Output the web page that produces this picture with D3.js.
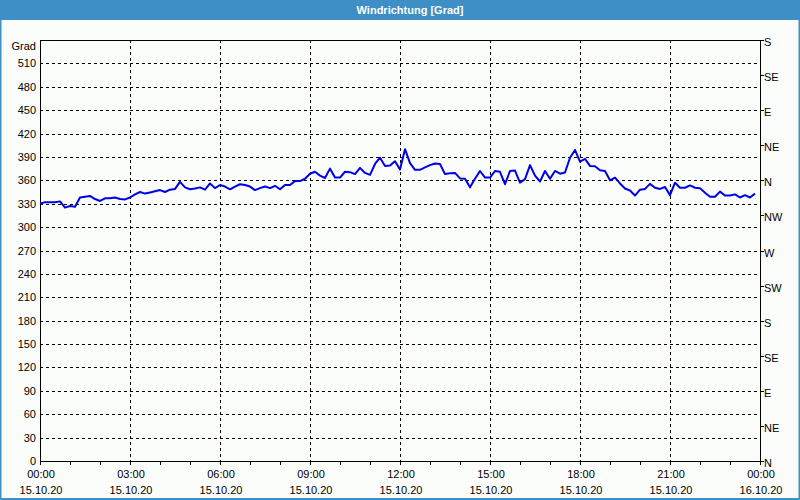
<!DOCTYPE html>
<html>
<head>
<meta charset="utf-8">
<script src="https://cdn.jsdelivr.net/npm/d3@7"></script>
<style>
  body { margin: 0; background: #fff; }
  svg { display: block; }
</style>
</head>
<body>
<div id="chart"></div>
<script>
// wind direction, one value every 10 minutes starting 15.10.20 00:00
const windDir = [
  330, 332, 332, 332, 333, 325, 327, 326, 338, 339, 340, 336,
  333.5, 337, 337, 338, 336, 335.5, 338, 342, 345, 343, 344.5, 346,
  347.5, 345, 348, 349, 358, 351, 348.5, 349.5, 351, 348, 356, 350,
  354, 352, 348.5, 352, 355, 354, 352, 347.5, 350, 352, 350, 353,
  348.5, 354, 354, 359, 359, 362, 368.5, 371, 366, 363, 375, 363.5,
  363.5, 371, 370.5, 368, 376, 369.5, 367, 381, 389, 378.5, 379, 384.5,
  374, 400, 382, 373.5, 373.5, 376.5, 379.5, 381.5, 381, 368, 369, 369.5,
  362.5, 362, 351, 362, 372, 363.5, 363.5, 372, 371, 355, 372, 372.5,
  357, 361.5, 379.5, 366, 358.5, 372, 362, 372, 368.5, 370, 389, 399,
  384, 387.5, 378.5, 378, 373, 372, 360, 363.5, 356, 349.5, 347, 340.5,
  348, 349, 355.5, 350.5, 349, 351.5, 341, 357, 350.5, 350.5, 353.5, 350.5,
  350, 344, 339, 339, 345.5, 340.5, 340.5, 342, 338, 341, 338, 343
];
const stepMinutes = 10;
const startTime = new Date(2020, 9, 15, 0, 0);
const endTime = new Date(2020, 9, 16, 0, 0);

const yTicks = [0, 30, 60, 90, 120, 150, 180, 210, 240, 270, 300, 330, 360, 390, 420, 450, 480, 510];
const dirTicks = [0, 45, 90, 135, 180, 225, 270, 315, 360, 405, 450, 495, 540];
const dirLabels = ['N', 'NE', 'E', 'SE', 'S', 'SW', 'W', 'NW', 'N', 'NE', 'E', 'SE', 'S'];

const width = 800, height = 500;
const margin = { top: 40, right: 40, bottom: 39, left: 40 };
const font = 'Liberation Sans, Arial, sans-serif';

const svg = d3.select('#chart').append('svg')
    .attr('width', width)
    .attr('height', height);

svg.append('rect')
    .attr('width', width).attr('height', height)
    .attr('fill', '#fbfdfb');

// title bar
svg.append('rect')
    .attr('width', width).attr('height', 20)
    .attr('fill', '#3d8fc6');
svg.append('text')
    .attr('x', 410).attr('y', 14)
    .attr('text-anchor', 'middle')
    .style('font-family', font)
    .style('font-size', '11px')
    .style('font-weight', 'bold')
    .style('fill', '#fff')
    .text('Windrichtung [Grad]');

// window border
svg.append('path')
    .attr('d', `M0.5,20 V${height - 1} H${width - 0.5} V20`)
    .attr('fill', 'none')
    .attr('stroke', '#3d8fc6')
    .attr('stroke-width', 2);

const x = d3.scaleTime()
    .domain([startTime, endTime])
    .range([margin.left, width - margin.right]);

const y = d3.scaleLinear()
    .domain([0, 540])
    .range([height - margin.bottom, margin.top]);

const x0 = x.range()[0], x1 = x.range()[1];
const y0 = y.range()[0], y1 = y.range()[1];

// grid
const grid = svg.append('g')
    .attr('stroke', '#000')
    .attr('stroke-width', 1)
    .attr('stroke-dasharray', '3,3')
    .attr('shape-rendering', 'crispEdges');

grid.selectAll('line.h')
    .data(yTicks.filter(d => d > 0))
    .join('line')
    .attr('class', 'h')
    .attr('x1', x0).attr('x2', x1)
    .attr('y1', d => Math.round(y(d)) + 0.5)
    .attr('y2', d => Math.round(y(d)) + 0.5);

const gridHours = d3.timeHour.every(3).range(startTime, endTime).filter(d => d > startTime);
grid.selectAll('line.v')
    .data(gridHours)
    .join('line')
    .attr('class', 'v')
    .attr('y1', y1).attr('y2', y0)
    .attr('x1', d => Math.round(x(d)) + 0.5)
    .attr('x2', d => Math.round(x(d)) + 0.5);

// frame
svg.append('rect')
    .attr('x', x0 + 0.5).attr('y', y1 + 0.5)
    .attr('width', x1 - x0).attr('height', y0 - y1)
    .attr('fill', 'none')
    .attr('stroke', '#000')
    .attr('shape-rendering', 'crispEdges');

// left axis labels
svg.append('g')
    .selectAll('text')
    .data(yTicks)
    .join('text')
    .attr('x', x0 - 4)
    .attr('y', d => y(d) + 4)
    .attr('text-anchor', 'end')
    .style('font-family', font)
    .style('font-size', '11px')
    .style('fill', '#000')
    .text(d => d);

svg.append('text')
    .attr('x', x0 - 4).attr('y', 50)
    .attr('text-anchor', 'end')
    .style('font-family', font)
    .style('font-size', '11px')
    .text('Grad');

// right axis: compass directions
const right = svg.append('g');
right.selectAll('line')
    .data(dirTicks)
    .join('line')
    .attr('x1', x1).attr('x2', x1 + 4)
    .attr('y1', d => Math.round(y(d)) + 0.5)
    .attr('y2', d => Math.round(y(d)) + 0.5)
    .attr('stroke', '#000')
    .attr('shape-rendering', 'crispEdges');
right.selectAll('text')
    .data(dirTicks)
    .join('text')
    .attr('x', x1 + 4)
    .attr('y', d => y(d) + 6)
    .style('font-family', font)
    .style('font-size', '11px')
    .text((d, i) => dirLabels[i]);

// bottom axis: hourly ticks, label every 3 hours
const hours = d3.timeHour.every(1).range(startTime, d3.timeMinute.offset(endTime, 1));
svg.append('g')
    .selectAll('line')
    .data(hours)
    .join('line')
    .attr('x1', d => Math.round(x(d)) + 0.5)
    .attr('x2', d => Math.round(x(d)) + 0.5)
    .attr('y1', y0).attr('y2', y0 + 4)
    .attr('stroke', '#000')
    .attr('shape-rendering', 'crispEdges');

const labelHours = d3.timeHour.every(3).range(startTime, d3.timeMinute.offset(endTime, 1));
const timeFmt = d3.timeFormat('%H:%M');
const dateFmt = d3.timeFormat('%d.%m.%y');
const xl = svg.append('g')
    .selectAll('g')
    .data(labelHours)
    .join('g')
    .attr('transform', d => `translate(${x(d) + 1},0)`)
    .style('font-family', font)
    .style('font-size', '11px')
    .attr('text-anchor', 'middle');
xl.append('text').attr('y', y0 + 17).text(d => timeFmt(d));
xl.append('text').attr('y', y0 + 33).text(d => dateFmt(d));

// data line
const line = d3.line()
    .x((d, i) => x(d3.timeMinute.offset(startTime, i * stepMinutes)))
    .y(d => y(d));

svg.append('path')
    .datum(windDir)
    .attr('d', line)
    .attr('fill', 'none')
    .attr('stroke', '#0000e6')
    .attr('stroke-width', 2)
    .attr('stroke-linejoin', 'round');
</script>
</body>
</html>
